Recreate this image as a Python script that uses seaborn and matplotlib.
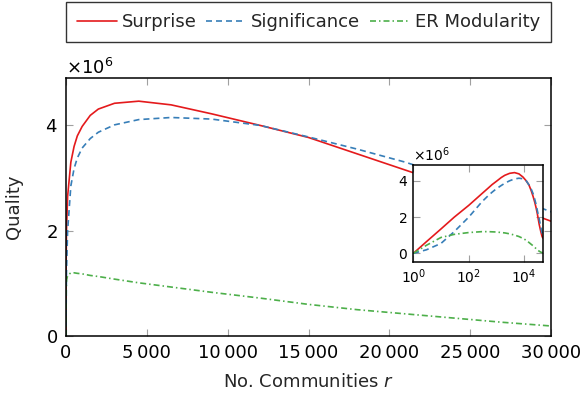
import numpy as np
import pandas as pd
import matplotlib
matplotlib.use("Agg")
import matplotlib.pyplot as plt
import seaborn as sns
from matplotlib.ticker import ScalarFormatter, FuncFormatter, FixedLocator, NullLocator

# 数据 (单位: 10^6)
r_values = [1, 3, 10, 30, 100, 300, 500, 700, 1000, 1500, 2000, 3000, 4500, 6500, 9000,
            12000, 15000, 18000, 21000, 24000, 27000, 30000, 35000, 40000, 44000, 47000]
surprise = [0.0, 0.65, 1.35, 2.0, 2.65, 3.3, 3.6, 3.8, 3.98, 4.19, 4.31, 4.42, 4.46,
            4.39, 4.22, 4.0, 3.77, 3.46, 3.15, 2.84, 2.52, 2.18, 1.6, 1.2, 0.95, 0.85]
significance = [0.0, 0.2, 0.55, 1.2, 2.0, 2.85, 3.18, 3.38, 3.57, 3.75, 3.87, 4.01, 4.11,
                4.15, 4.12, 4.0, 3.78, 3.55, 3.3, 3.0, 2.7, 2.36, 1.9, 1.45, 1.15, 1.0]
er_modularity = [0.0, 0.45, 0.88, 1.05, 1.15, 1.2, 1.2, 1.19, 1.18, 1.15, 1.13, 1.08, 1.01,
                 0.93, 0.83, 0.72, 0.6, 0.5, 0.42, 0.34, 0.26, 0.19, 0.12, 0.07, 0.04, 0.02]

series_names = ["Surprise", "Significance", "ER Modularity"]
series_values = [surprise, significance, er_modularity]
colors = ["#e41a1c", "#377eb8", "#4daf4a"]
line_styles = ["-", (0, (3.6, 2.4)), (0, (3.6, 1.8, 0.9, 1.8))]

main_xticks = [0, 5000, 10000, 15000, 20000, 25000, 30000]
yticks = [0, 2e6, 4e6]
inset_xticks = [1, 100, 10000]

sns.set_style("white")
plt.rcParams['font.family'] = ['DejaVu Sans']
plt.rcParams['mathtext.fontset'] = 'dejavusans'


def style_axes(ax, size, pad):
    for s in ax.spines.values():
        s.set_color("black")
        s.set_linewidth(1.1)
    ax.tick_params(direction="in", length=5, width=0.8, color="#a0a0a0",
                   top=True, right=True, bottom=True, left=True,
                   labelsize=size, labelcolor="black", pad=pad)
    fmt = ScalarFormatter(useMathText=True)
    fmt.set_powerlimits((0, 0))
    ax.yaxis.set_major_formatter(fmt)
    ax.yaxis.get_offset_text().set_fontsize(size)


def draw_lines(ax, with_label):
    for name, vals, c, ls in zip(series_names, series_values, colors, line_styles):
        df = pd.DataFrame({"r": r_values, "q": np.array(vals) * 1e6})
        sns.lineplot(data=df, x="r", y="q", ax=ax, color=c, linestyle=ls,
                     linewidth=1.2, label=name if with_label else None,
                     legend=False)


fig = plt.figure(figsize=(5.85, 4.05), dpi=100)
ax = fig.add_axes([0.1128, 0.1704, 0.8292, 0.637])
draw_lines(ax, True)
ax.set_xlim(0, 30000)
ax.set_ylim(0, 4.9e6)
ax.xaxis.set_major_locator(FixedLocator(main_xticks))
ax.yaxis.set_major_locator(FixedLocator(yticks))
style_axes(ax, 13, 6)
ax.xaxis.set_major_formatter(FuncFormatter(lambda v, p: f"{int(v):,}".replace(",", "\u2009")))
ax.set_xlabel("No. Communities $r$", fontsize=13, labelpad=8)
ax.set_ylabel("Quality", fontsize=13, labelpad=16)

leg = ax.legend(loc="lower left", bbox_to_anchor=(0, 1.14, 1, 0.1), mode="expand",
                ncol=3, fontsize=13, frameon=True, fancybox=False,
                handlelength=2.2, handletextpad=0.3, columnspacing=0.3,
                borderaxespad=0, borderpad=0.6)
leg.get_frame().set_edgecolor("black")
leg.get_frame().set_linewidth(1.0)

# 插图 (对数坐标)
axin = fig.add_axes([0.7065, 0.3538, 0.2212, 0.2388])
draw_lines(axin, False)
axin.set_xscale("log")
axin.set_xlim(1, 46800)
axin.set_ylim(-0.46e6, 4.88e6)
axin.xaxis.set_major_locator(FixedLocator(inset_xticks))
axin.xaxis.set_minor_locator(NullLocator())
axin.yaxis.set_major_locator(FixedLocator(yticks))
axin.set_xlabel("")
axin.set_ylabel("")
style_axes(axin, 10, 4)
axin.xaxis.set_major_formatter(FuncFormatter(lambda v, p: f"$10^{{{int(round(np.log10(v)))}}}$"))

fig.savefig("out.png", dpi=100)
